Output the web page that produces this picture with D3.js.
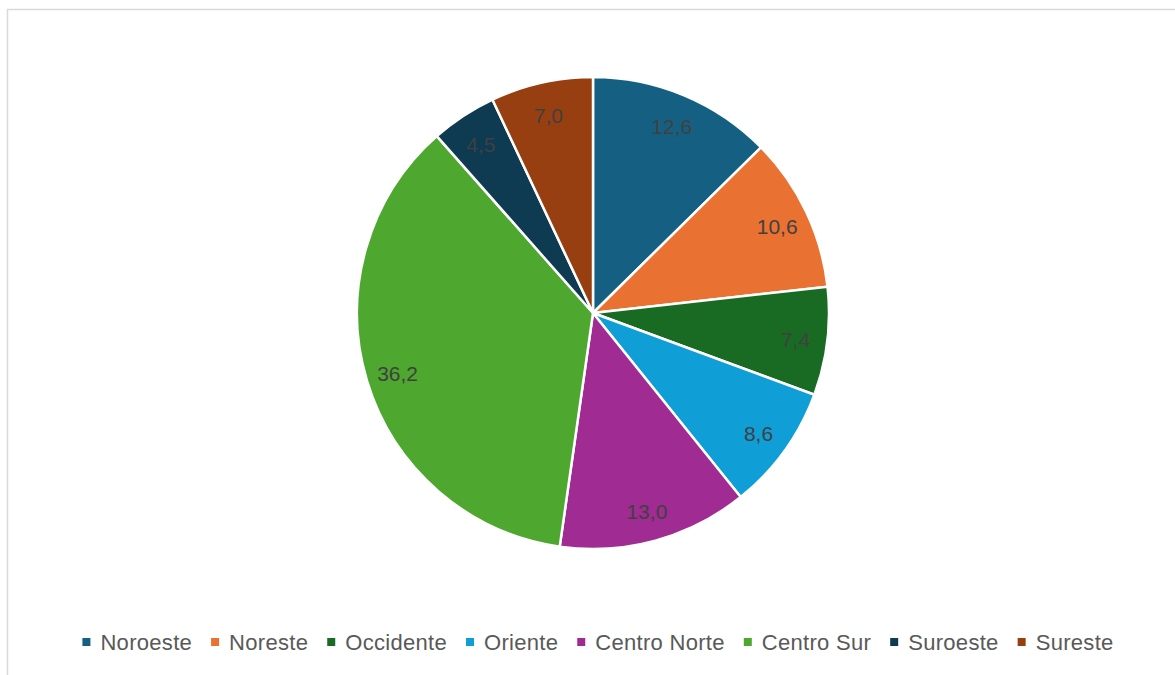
<!DOCTYPE html>
<html><head><meta charset="utf-8">
<script src="https://cdn.jsdelivr.net/npm/d3@7"></script>
<style>body{margin:0;background:#fff}svg{display:block}</style>
</head><body>
<svg id="c" width="1175" height="675"></svg>
<script>
const categories = ["Noroeste","Noreste","Occidente","Oriente","Centro Norte","Centro Sur","Suroeste","Sureste"];
const values = [12.6,10.6,7.4,8.6,13.0,36.2,4.5,7.0];
const colors = ["#156082","#E97132","#196B24","#0F9ED5","#A02B93","#4EA72E","#0E3A52","#983F12"];

const svg = d3.select("#c");
svg.append("rect").attr("x",7.5).attr("y",9.5).attr("width",1200).attr("height",700)
  .attr("fill","#fff").attr("stroke","#d9d9d9").attr("stroke-width",1.5);

const cx = 593, cy = 313, r = 236;
const data = categories.map((c,i)=>({cat:c,value:values[i],color:colors[i]}));
const pie = d3.pie().value(d=>d.value).sort(null);
const arcs = pie(data);
const arc = d3.arc().innerRadius(0).outerRadius(r);
const labelArc = d3.arc().innerRadius(204).outerRadius(204);
const g = svg.append("g").attr("transform",`translate(${cx},${cy})`);
g.selectAll("path").data(arcs).join("path")
  .attr("d",arc).attr("fill",d=>d.data.color)
  .attr("stroke","#fff").attr("stroke-width",2.5).attr("stroke-linejoin","round");
const fmt = v => v.toFixed(1).replace(".",",");
g.selectAll("text").data(arcs).join("text")
  .attr("transform",d=>{const p=labelArc.centroid(d);return `translate(${p[0]},${p[1]+1.5})`;})
  .attr("text-anchor","middle").attr("dy","0.36em")
  .attr("font-family","'Liberation Sans', Arial, sans-serif").attr("font-size",21)
  .attr("fill","#404040").text(d=>fmt(d.data.value));

// legend
const lg = svg.append("g");
const items = [];
let x = 0;
const msz = 8, mgap = 10, igap = 19;
categories.forEach((c,i)=>{
  const it = lg.append("g");
  it.append("rect").attr("x",0).attr("y",-msz/2).attr("width",msz).attr("height",msz).attr("fill",colors[i]);
  const t = it.append("text").attr("x",msz+mgap).attr("dy","0.36em")
    .attr("font-family","'Liberation Sans', Arial, sans-serif").attr("font-size",22)
    .attr("letter-spacing",0.3)
    .attr("fill","#595959").text(c);
  const w = t.node().getComputedTextLength();
  items.push({it,x,w});
  x += msz+mgap+w+igap;
});
const total = x - igap;
const startX = 598 - total/2;
items.forEach(o=>o.it.attr("transform",`translate(${startX+o.x},642)`));
</script>
</body></html>
